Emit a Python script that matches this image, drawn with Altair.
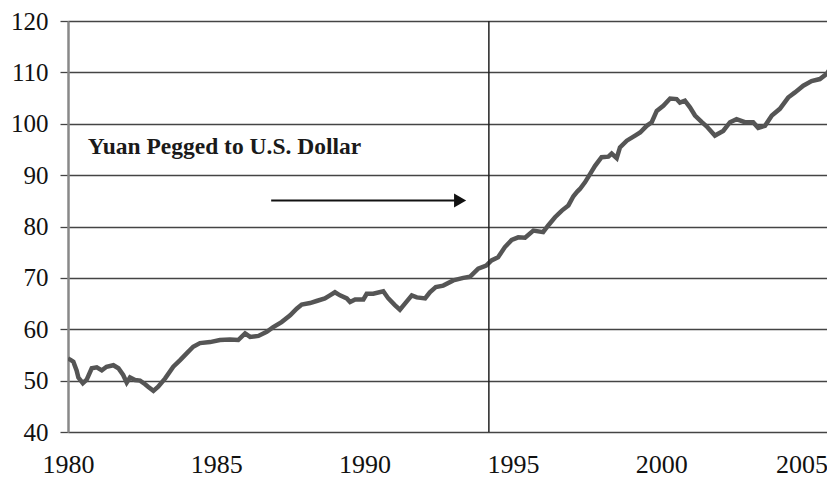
import altair as alt
import pandas as pd

# ---- data ----
years = [1980.00, 1980.10, 1980.18, 1980.29, 1980.35, 1980.50, 1980.63, 1980.80, 1980.97,
         1981.14, 1981.30, 1981.53, 1981.70, 1981.86, 1981.98, 1982.09, 1982.26, 1982.43,
         1982.60, 1982.70, 1982.88, 1983.04, 1983.27, 1983.55, 1983.78, 1984.00, 1984.22,
         1984.45, 1984.79, 1985.12, 1985.46, 1985.74, 1985.97, 1986.14, 1986.42, 1986.70,
         1986.92, 1987.20, 1987.49, 1987.71, 1987.88, 1988.16, 1988.38, 1988.66, 1988.83,
         1989.00, 1989.17, 1989.40, 1989.51, 1989.68, 1989.96, 1990.07, 1990.29, 1990.63,
         1990.80, 1991.02, 1991.19, 1991.36, 1991.59, 1991.76, 1992.04, 1992.20, 1992.40,
         1992.65, 1992.99, 1993.33, 1993.55, 1993.83, 1994.10, 1994.28, 1994.50, 1994.73,
         1994.96, 1995.18, 1995.41, 1995.69, 1996.02, 1996.19, 1996.42, 1996.65, 1996.87,
         1997.04, 1997.17, 1997.26, 1997.43, 1997.60, 1997.77, 1997.99, 1998.22, 1998.33,
         1998.50, 1998.61, 1998.84, 1999.12, 1999.29, 1999.51, 1999.68, 1999.85, 2000.07,
         2000.30, 2000.52, 2000.63, 2000.80, 2000.97, 2001.14, 2001.37, 2001.53, 2001.81,
         2002.09, 2002.32, 2002.54, 2002.82, 2003.10, 2003.27, 2003.50, 2003.73, 2004.00,
         2004.28, 2004.51, 2004.79, 2005.07, 2005.35, 2005.58, 2005.75, 2005.86]
values = [54.3, 54.0, 53.7, 52.0, 50.6, 49.5, 50.2, 52.4, 52.6,
          52.0, 52.7, 53.0, 52.4, 51.1, 49.6, 50.6, 50.1, 50.0,
          49.3, 48.8, 48.0, 48.8, 50.4, 52.7, 54.0, 55.3, 56.6,
          57.3, 57.5, 57.9, 58.0, 57.9, 59.2, 58.5, 58.7, 59.5,
          60.4, 61.4, 62.7, 64.0, 64.8, 65.1, 65.5, 66.0, 66.6,
          67.2, 66.6, 66.0, 65.3, 65.8, 65.8, 66.9, 66.9, 67.4,
          66.0, 64.7, 63.8, 65.0, 66.6, 66.2, 66.0, 67.2, 68.2,
          68.5, 69.5, 70.0, 70.2, 71.8, 72.4, 73.4, 74.0, 76.0,
          77.4, 77.9, 77.8, 79.2, 78.9, 80.2, 81.8, 83.1, 84.1,
          85.9, 86.8, 87.3, 88.6, 90.2, 91.8, 93.5, 93.6, 94.2,
          93.3, 95.4, 96.7, 97.7, 98.3, 99.6, 100.3, 102.5, 103.5,
          104.9, 104.8, 104.1, 104.5, 103.2, 101.6, 100.3, 99.5, 97.7,
          98.6, 100.3, 100.9, 100.3, 100.3, 99.2, 99.6, 101.6, 102.9,
          105.1, 106.1, 107.4, 108.3, 108.7, 109.7, 111.3, 111.9]

x_ticks = [1980, 1985, 1990, 1995, 2000, 2005]
y_ticks = [40, 50, 60, 70, 80, 90, 100, 110, 120]

peg_year = [1994.19]
arrow_start = [1986.85]
arrow_end = [1993.22]
arrow_value = [85.05]
label_text = ["Yuan Pegged to U.S. Dollar"]
label_year = [1980.67]
label_value = [94.2]

FONT = "Liberation Serif"

df = pd.DataFrame({"year": years, "value": values})
xs = alt.Scale(domain=[1980, 2005.59], nice=False, zero=False)
ys = alt.Scale(domain=[40, 120], nice=False, zero=False)

x_axis = alt.Axis(values=x_ticks, format="d", title=None, grid=False, ticks=False,
                  domain=False, labelFont=FONT, labelFontSize=26, labelColor="#111",
                  labelPadding=19, labelFlush=False, labelOverlap=False,
                  labelOffset={"condition": {"test": "datum.value == 2005", "value": -8},
                               "value": 0})
y_axis = alt.Axis(values=y_ticks, title=None, grid=True, gridColor="#444", gridWidth=1.3,
                  tickColor="#444", tickWidth=1.3, tickSize=8, domainColor="#888",
                  domainWidth=2.5, labelFont=FONT, labelFontSize=25, labelColor="#111",
                  labelPadding=12)

line = alt.Chart(df).mark_line(color="#555555", strokeWidth=4.5, clip=True).encode(
    x=alt.X("year:Q", scale=xs, axis=x_axis),
    y=alt.Y("value:Q", scale=ys, axis=y_axis),
)

peg = alt.Chart(pd.DataFrame({"x": peg_year})).mark_rule(color="#222", strokeWidth=1.5).encode(
    x=alt.X("x:Q", scale=xs)
)

arr = pd.DataFrame({"x": arrow_start, "x2": arrow_end, "y": arrow_value})
arrow_line = alt.Chart(arr).mark_rule(color="#111", strokeWidth=2).encode(
    x=alt.X("x:Q", scale=xs), x2="x2:Q", y=alt.Y("y:Q", scale=ys)
)
arrow_head = alt.Chart(arr).mark_point(shape="triangle-right", size=196, filled=True,
                                       color="#111", opacity=1).encode(
    x=alt.X("x2:Q", scale=xs), y=alt.Y("y:Q", scale=ys)
)

txt = alt.Chart(pd.DataFrame({"x": label_year, "y": label_value, "t": label_text})).mark_text(
    align="left", baseline="alphabetic", font=FONT, fontSize=23.5, fontWeight="bold",
    color="#1a1a1a"
).encode(x=alt.X("x:Q", scale=xs), y=alt.Y("y:Q", scale=ys), text="t:N")

chart = alt.layer(line, peg, arrow_line, arrow_head, txt).properties(
    width=759, height=411,
    padding={"left": 60, "top": 13, "right": 0, "bottom": 47},
    autosize=alt.AutoSizeParams(type="none"),
    background="white",
).configure_view(stroke=None)

chart.save("out.html", embed_options={"renderer": "svg", "actions": False})
